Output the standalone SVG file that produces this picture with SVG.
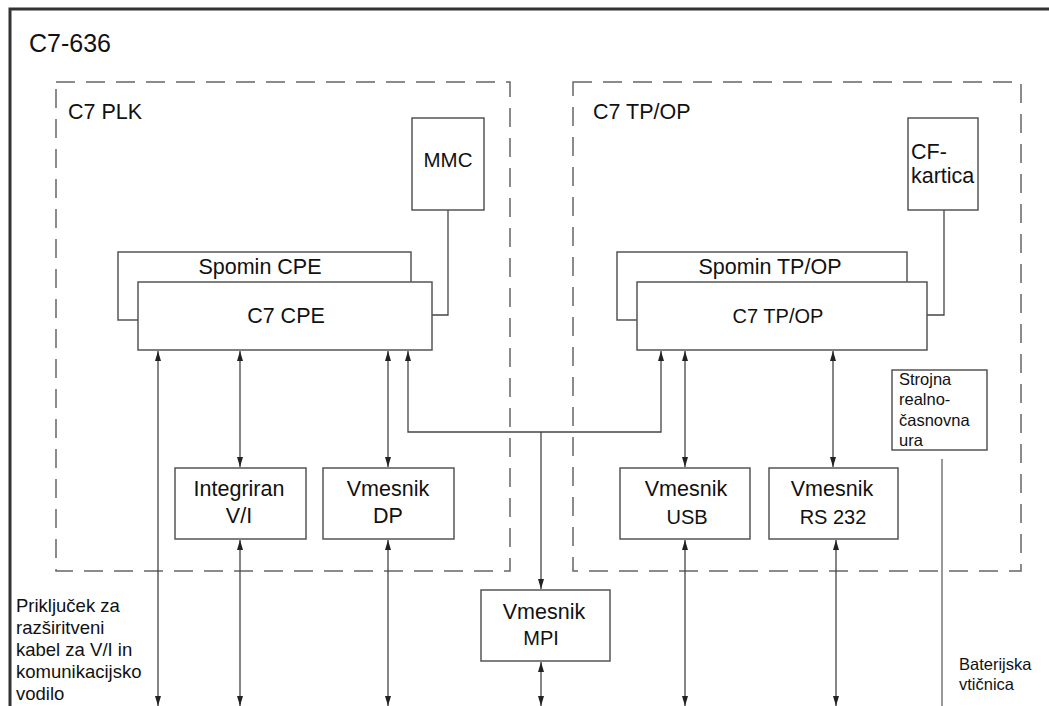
<svg xmlns="http://www.w3.org/2000/svg" width="1049" height="706" viewBox="0 0 1049 706">
<style>
  text { font-family: "Liberation Sans", Arial, sans-serif; fill: #111; }
  .box { fill: #fff; stroke: #555; stroke-width: 1.5; }
  .dash { fill: none; stroke: #666; stroke-width: 1.5; stroke-dasharray: 19 11; }
  .ln { fill: none; stroke: #444; stroke-width: 1.3; }
  .lg { fill: none; stroke: #777; stroke-width: 1.5; }
  .t21 { font-size: 21.5px; }
  .t21m { font-size: 21.5px; text-anchor: middle; }
  .t18 { font-size: 18.5px; }
  .t16 { font-size: 16.5px; }
</style>
<defs>
  <marker id="ah" viewBox="0 0 10 6" refX="10" refY="3" markerWidth="10" markerHeight="6" markerUnits="userSpaceOnUse" orient="auto-start-reverse">
    <path d="M0,0 L10,3 L0,6 z" fill="#222"/>
  </marker>
</defs>
<rect width="1049" height="706" fill="#fff"/>
<!-- outer frame -->
<path d="M1049,9 H10 V706" fill="none" stroke="#333" stroke-width="3"/>
<text x="29" y="52" style="font-size:25px">C7-636</text>

<!-- dashed groups -->
<g id="plk">
  <rect class="dash" x="56" y="82" width="454" height="489"/>
  <text class="t21" x="68" y="119">C7 PLK</text>
</g>
<g id="tpop">
  <rect class="dash" x="573" y="82" width="448" height="489"/>
  <text class="t21" x="593" y="119">C7 TP/OP</text>
</g>

<!-- connectors -->
<g id="connectors">
  <path class="ln" d="M448,210 V315 H432"/>
  <path class="ln" d="M944,210 V315 H927"/>
  <line class="ln" x1="158" y1="351" x2="158" y2="706" marker-start="url(#ah)" marker-end="url(#ah)"/>
  <line class="ln" x1="240" y1="351" x2="240" y2="467" marker-start="url(#ah)" marker-end="url(#ah)"/>
  <line class="ln" x1="388" y1="351" x2="388" y2="467" marker-start="url(#ah)" marker-end="url(#ah)"/>
  <path class="ln" d="M408,351 V432 H661 V351" marker-start="url(#ah)" marker-end="url(#ah)"/>
  <line class="ln" x1="541" y1="432" x2="541" y2="589" marker-end="url(#ah)"/>
  <line class="ln" x1="685" y1="351" x2="685" y2="467" marker-start="url(#ah)" marker-end="url(#ah)"/>
  <line class="ln" x1="833" y1="351" x2="833" y2="467" marker-start="url(#ah)" marker-end="url(#ah)"/>
  <line class="ln" x1="240" y1="540" x2="240" y2="706" marker-start="url(#ah)" marker-end="url(#ah)"/>
  <line class="ln" x1="388" y1="540" x2="388" y2="706" marker-start="url(#ah)" marker-end="url(#ah)"/>
  <line class="ln" x1="541" y1="662" x2="541" y2="706" marker-start="url(#ah)" marker-end="url(#ah)"/>
  <line class="ln" x1="685" y1="540" x2="685" y2="706" marker-start="url(#ah)" marker-end="url(#ah)"/>
  <line class="ln" x1="836" y1="540" x2="836" y2="706" marker-start="url(#ah)" marker-end="url(#ah)"/>
  <line class="lg" x1="942" y1="459" x2="942" y2="706"/>
</g>

<!-- nodes -->
<g id="mmc">
  <rect class="box" x="412" y="118" width="72" height="92"/>
  <text class="t21m" x="448" y="167" style="font-size:20.5px">MMC</text>
</g>
<g id="spomin-cpe">
  <rect class="box" x="118" y="252" width="293" height="68"/>
  <text class="t21m" x="260" y="274">Spomin CPE</text>
</g>
<g id="c7-cpe">
  <rect class="box" x="138" y="282" width="294" height="68"/>
  <text class="t21m" x="286" y="323">C7 CPE</text>
</g>
<g id="cf-kartica">
  <rect class="box" x="908" y="118" width="70" height="92"/>
  <text class="t21" x="911" y="159">CF-</text>
  <text class="t21" x="911" y="183">kartica</text>
</g>
<g id="spomin-tpop">
  <rect class="box" x="617" y="252" width="290" height="68"/>
  <text class="t21m" x="770" y="274">Spomin TP/OP</text>
</g>
<g id="c7-tpop">
  <rect class="box" x="637" y="282" width="290" height="68"/>
  <text class="t21m" x="778" y="323" style="font-size:20px">C7 TP/OP</text>
</g>
<g id="integriran">
  <rect class="box" x="175" y="468" width="131" height="71"/>
  <text class="t21m" x="239" y="496">Integriran</text>
  <text class="t21m" x="239" y="523">V/I</text>
</g>
<g id="vmesnik-dp">
  <rect class="box" x="323" y="468" width="131" height="71"/>
  <text class="t21m" x="388" y="496">Vmesnik</text>
  <text class="t21m" x="388" y="523">DP</text>
</g>
<g id="vmesnik-mpi">
  <rect class="box" x="481" y="590" width="129" height="71"/>
  <text class="t21m" x="544" y="619">Vmesnik</text>
  <text class="t21m" x="541" y="645" style="font-size:20px">MPI</text>
</g>
<g id="vmesnik-usb">
  <rect class="box" x="620" y="468" width="130" height="71"/>
  <text class="t21m" x="686" y="496">Vmesnik</text>
  <text class="t21m" x="687" y="524" style="font-size:20px">USB</text>
</g>
<g id="vmesnik-rs232">
  <rect class="box" x="769" y="468" width="129" height="71"/>
  <text class="t21m" x="832" y="496">Vmesnik</text>
  <text class="t21m" x="833" y="524" style="font-size:20px">RS 232</text>
</g>
<g id="ura">
  <rect class="box" x="892" y="370" width="95" height="80"/>
  <text class="t16" x="899" y="385">Strojna</text>
  <text class="t16" x="899" y="405">realno-</text>
  <text class="t16" x="899" y="426">časnovna</text>
  <text class="t16" x="899" y="446">ura</text>
</g>
<g id="prikljucek">
  <text class="t18" x="16" y="612">Priključek za</text>
  <text class="t18" x="16" y="634">razširitveni</text>
  <text class="t18" x="16" y="656">kabel za V/I in</text>
  <text class="t18" x="16" y="678">komunikacijsko</text>
  <text class="t18" x="16" y="700">vodilo</text>
</g>
<g id="baterija">
  <text class="t16" x="959" y="670">Baterijska</text>
  <text class="t16" x="959" y="690">vtičnica</text>
</g>
</svg>
